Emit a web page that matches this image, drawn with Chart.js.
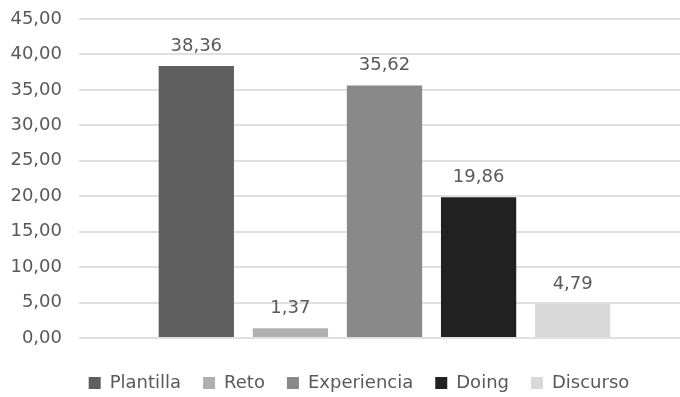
<!DOCTYPE html>
<html>
<head>
<meta charset="utf-8">
<script src="https://cdn.jsdelivr.net/npm/chart.js@4/dist/chart.umd.min.js"></script>
<style>
  html, body { margin: 0; padding: 0; background: #fff; overflow: hidden; }
  #wrap { width: 690px; height: 397px; }
</style>
</head>
<body>
<div id="wrap"><canvas id="barChart"></canvas></div>
<script>
const seriesNames = ['Plantilla', 'Reto', 'Experiencia', 'Doing', 'Discurso'];
const seriesValues = [38.36, 1.37, 35.62, 19.86, 4.79];
const seriesColors = ['#5f5f5f', '#b0b0b0', '#898989', '#212121', '#d9d9d9'];
const yTicks = [0, 5, 10, 15, 20, 25, 30, 35, 40, 45];

const fmt = v => v.toFixed(2).replace('.', ',');

// draws the value above each bar
const valueLabels = {
  id: 'valueLabels',
  afterDatasetsDraw(chart) {
    const ctx = chart.ctx;
    ctx.save();
    ctx.font = '18px "DejaVu Sans"';
    ctx.fillStyle = '#595959';
    ctx.textAlign = 'center';
    ctx.textBaseline = 'middle';
    chart.data.datasets.forEach((ds, i) => {
      chart.getDatasetMeta(i).data.forEach((bar, j) => {
        ctx.fillText(fmt(ds.data[j]), bar.x, bar.y - 20);
      });
    });
    ctx.restore();
  }
};

// nudge the legend a little to the right, like the original
const legendShift = {
  id: 'legendShift',
  afterLayout(chart) {
    chart.legend.left += 14;
    chart.legend.right += 14;
  }
};

Chart.defaults.font.family = '"DejaVu Sans", sans-serif';
Chart.defaults.font.size = 18;
Chart.defaults.color = '#595959';

new Chart(document.getElementById('barChart'), {
  type: 'bar',
  data: {
    labels: [''],
    datasets: seriesNames.map((name, i) => ({
      label: name,
      data: [seriesValues[i]],
      backgroundColor: seriesColors[i],
      barPercentage: 0.8,
      categoryPercentage: 0.77
    }))
  },
  options: {
    responsive: true,
    maintainAspectRatio: false,
    animation: false,
    layout: { padding: { left: 0, right: 0, top: 0, bottom: -5 } },
    plugins: {
      legend: {
        position: 'bottom',
        labels: { boxWidth: 12, boxHeight: 12, padding: 22, color: '#595959' }
      },
      tooltip: { enabled: false }
    },
    scales: {
      x: {
        display: true,
        grid: { display: false },
        border: { display: false },
        ticks: { display: false },
        afterFit(scale) { scale.height = 14; }
      },
      y: {
        min: 0,
        max: 45,
        afterFit(scale) {
          scale.width = 79;
          scale.paddingTop = 19;
          scale.paddingBottom = 0;
        },
        afterBuildTicks(scale) { scale.ticks = yTicks.map(v => ({ value: v })); },
        ticks: { padding: 17, callback: v => fmt(v) },
        grid: { color: '#e0e0e0', lineWidth: 2, drawTicks: false },
        border: { display: false }
      }
    }
  },
  plugins: [valueLabels, legendShift]
});
</script>
</body>
</html>
